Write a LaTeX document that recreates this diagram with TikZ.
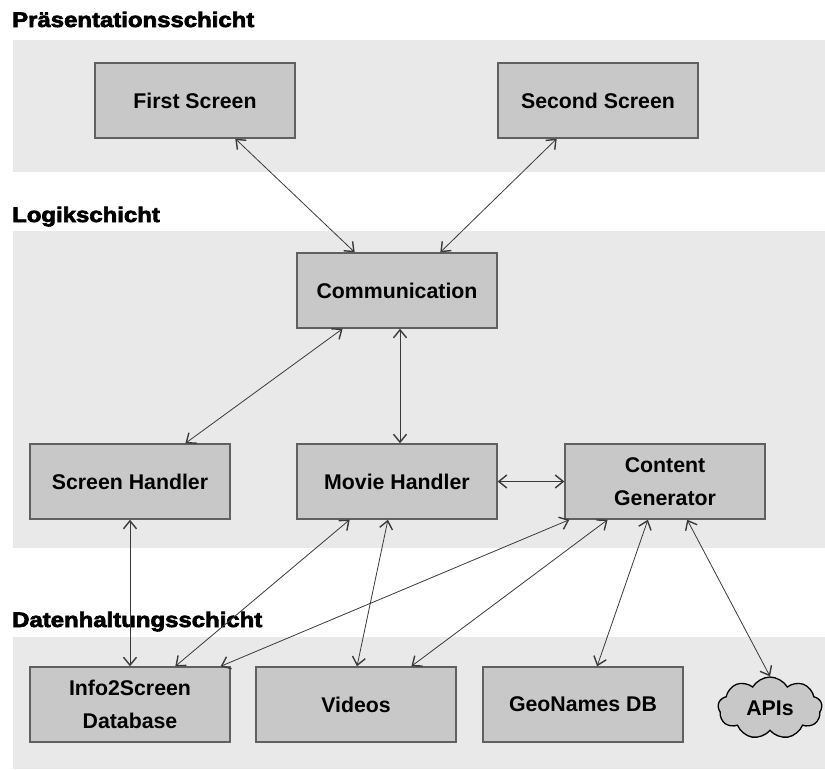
\documentclass[tikz,border=0pt]{standalone}
\usepackage{fontspec}
\setmainfont{Liberation Sans}
\newfontfamily\layerfont[FakeBold=3.2,FakeStretch=1.14]{Liberation Sans Bold}
\usetikzlibrary{arrows.meta,calc,shapes.symbols}

\definecolor{bandgray}{HTML}{E9E9E9}
\definecolor{boxgray}{HTML}{C8C8C8}
\definecolor{boxline}{HTML}{606060}
\definecolor{linkgray}{HTML}{3A3A3A}

\tikzset{
  band/.style={fill=bandgray, draw=none},
  layertitle/.style={anchor=base west, inner sep=0pt,
    font=\layerfont\fontsize{21}{21}\selectfont},
  comp/.style={draw=boxline, line width=1.4pt, fill=boxgray,
    minimum width=200pt, minimum height=75pt, inner sep=0pt, align=center,
    font=\bfseries\fontsize{21.3}{33}\selectfont},
  apicloud/.style={cloud, cloud puffs=9, cloud puff arc=120, aspect=1.7,
    draw=black, line width=1.3pt, fill=boxgray, inner sep=0pt,
    minimum width=104pt, minimum height=62pt,
    font=\bfseries\fontsize{21.3}{21}\selectfont},
  link/.style={draw=linkgray, line width=0.8pt,
    >={Straight Barb[length=8pt,width=13pt,line width=1.4pt]}, <->}
}

\begin{document}
\begin{tikzpicture}[x=1pt,y=-1pt]
  \useasboundingbox (0,0) rectangle (825,769);
  \fill[white] (0,0) rectangle (825,769);

  % layer bands
  \path[band] (13,40) rectangle (825,172);
  \path[band] (13,231) rectangle (825,548);
  \path[band] (13,637) rectangle (825,769);

  % layer titles
  \node[layertitle] (t1) at (12,27) {Präsentationsschicht};
  \node[layertitle] (t2) at (12,222) {Logikschicht};
  \node[layertitle] (t3) at (12,627) {Datenhaltungsschicht};

  % presentation layer
  \node[comp] (fs) at (195,100.5) {First Screen};
  \node[comp] (ss) at (598,100.5) {Second Screen};

  % logic layer
  \node[comp] (com) at (397,290.5) {Communication};
  \node[comp] (sh) at (130,481.5) {Screen Handler};
  \node[comp] (mh) at (397,481.5) {Movie Handler};
  \node[comp] (cg) at (665,481.5) {Content\\Generator};

  % data layer
  \node[comp] (db) at (130,704.5) {Info2Screen\\Database};
  \node[comp] (vid) at (356,704.5) {Videos};
  \node[comp] (geo) at (583,704.5) {GeoNames DB};
  \node[apicloud] (api) at (770,708) {APIs};

  % connections
  \draw[link] ($(fs.south west)!0.70!(fs.south east)$) -- ($(com.north west)!0.29!(com.north east)$);
  \draw[link] ($(ss.south west)!0.295!(ss.south east)$) -- ($(com.north west)!0.715!(com.north east)$);
  \draw[link] ($(com.south west)!0.23!(com.south east)$) -- ($(sh.north west)!0.775!(sh.north east)$);
  \draw[link] ($(com.south west)!0.515!(com.south east)$) -- ($(mh.north west)!0.515!(mh.north east)$);
  \draw[link] (mh.east) -- (cg.west);
  \draw[link] (sh.south) -- (db.north);
  \draw[link] ($(mh.south west)!0.265!(mh.south east)$) -- ($(db.north west)!0.725!(db.north east)$);
  \draw[link] ($(cg.south west)!0.025!(cg.south east)$) -- ($(db.north west)!0.95!(db.north east)$);
  \draw[link] ($(mh.south west)!0.455!(mh.south east)$) -- ($(vid.north west)!0.505!(vid.north east)$);
  \draw[link] ($(cg.south west)!0.215!(cg.south east)$) -- ($(vid.north west)!0.775!(vid.north east)$);
  \draw[link] ($(cg.south west)!0.415!(cg.south east)$) -- ($(geo.north west)!0.57!(geo.north east)$);
  \draw[link] ($(cg.south west)!0.61!(cg.south east)$) -- (api.north);
\end{tikzpicture}
\end{document}
